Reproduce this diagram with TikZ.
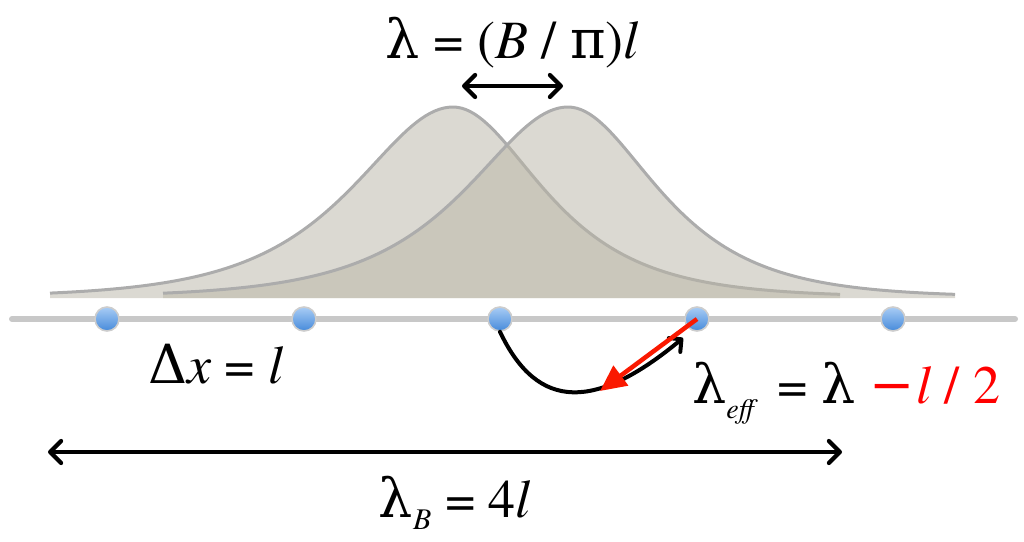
\documentclass[tikz,border=0pt]{standalone}
\usepackage{fontspec}
\setmainfont{TeX Gyre Termes}
\newfontfamily\grk{DejaVu Serif}
\newcommand{\glam}{{\grk λ}}
\newcommand{\gpi}{{\grk π}}
\newcommand{\gDel}{{\grk Δ}}
\newcommand{\gmin}{{\grk −}}
\usetikzlibrary{arrows.meta}
\definecolor{gfill}{RGB}{184,180,165}
\definecolor{gedge}{RGB}{172,172,172}
\definecolor{axisgray}{RGB}{200,200,200}
\definecolor{dottop}{RGB}{168,204,245}
\definecolor{dotbot}{RGB}{70,138,218}
\definecolor{dotedge}{RGB}{205,205,205}
\definecolor{redline}{RGB}{250,25,0}
\definecolor{redtext}{RGB}{255,0,0}
\tikzset{
  lbl/.style={inner sep=0pt, font=\fontsize{54}{60}\selectfont},
  gaussfill/.style={fill=gfill, fill opacity=0.5},
  gaussedge/.style={draw=gedge, line width=3pt},
  axisline/.style={draw=axisgray, line width=6pt, line cap=round},
  dot/.style={circle, minimum size=24pt, inner sep=0pt, top color=dottop, bottom color=dotbot, draw=dotedge, line width=1.6pt},
  dblarrow/.style={draw=black, line width=4.2pt, line cap=round, {Straight Barb[round,length=11pt,width=22pt]}-{Straight Barb[round,length=11pt,width=22pt]}},
  hoparrow/.style={draw=black, line width=4pt, line cap=round, -{Straight Barb[round,length=9pt,width=18pt]}},
  redarrow/.style={draw=redline, line width=4.5pt, -{Triangle[length=26pt,width=24pt]}}
}
\begin{document}
\begin{tikzpicture}[x=1pt,y=-1pt]
\useasboundingbox (0,0) rectangle (1024,541);
% distributions
\foreach \c/\s/\e in {453/-403/387, 568/-405/387}{
  \fill[gaussfill] plot[domain=\s:0,samples=90] ({\c+\x},{297-190/cosh(\x/88)})
    -- plot[domain=0:\e,samples=90] ({\c+\x},{297-190/cosh(\x/78)})
    -- ({\c+\e},298) -- ({\c+\s},298) -- cycle;
  \draw[gaussedge] plot[domain=\s:0,samples=90] ({\c+\x},{297-190/cosh(\x/88)})
    -- plot[domain=0:\e,samples=90] ({\c+\x},{297-190/cosh(\x/78)});
}
% axis
\coordinate (axL) at (12,319);
\coordinate (axR) at (1015,319);
\draw[axisline] (axL) -- (axR);
\foreach \i/\xx in {1/107,2/304,3/500,4/697,5/893}{
  \node[dot] (d\i) at (\xx,319) {};
}
% hop arrows
\coordinate (hopend) at (683,338);
\draw[hoparrow] (d3.south) .. controls (538,412) and (596,410) .. (hopend);
\coordinate (redend) at (600,391);
\draw[redarrow] (d4.center) -- (redend);
% width arrows
\coordinate (ta1) at (462,86);
\coordinate (ta2) at (563,86);
\draw[dblarrow] (ta1) -- (ta2);
\coordinate (ba1) at (48,452);
\coordinate (ba2) at (842,452);
\draw[dblarrow] (ba1) -- (ba2);
% labels
\node[lbl, anchor=base] (toplbl) at (512,58) {\glam{} = (\textit{B} / \gpi)\textit{l}};
\node[lbl, anchor=base west] (dxlbl) at (148,383) {\gDel\textit{x} = \textit{l}};
\node[lbl, anchor=base west] (efflbl) at (692,403) {\glam\raisebox{-15pt}{\fontsize{28}{30}\selectfont\textit{eff}}\kern6pt{} = \glam{} \textcolor{redtext}{\gmin\kern2pt\textit{l} / 2}};
\node[lbl, anchor=base] (blbl) at (455,517) {\glam\raisebox{-12pt}{\fontsize{30}{32}\selectfont\textit{B}} = 4\textit{l}};
\end{tikzpicture}
\end{document}
